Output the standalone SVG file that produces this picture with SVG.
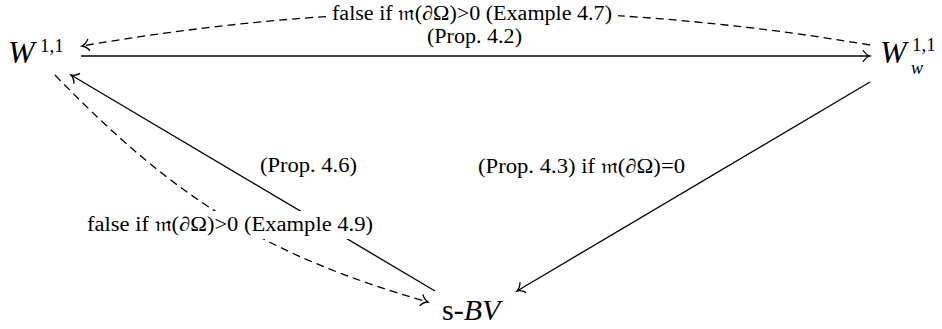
<svg xmlns="http://www.w3.org/2000/svg" width="942" height="329" viewBox="0 0 942 329">
<style>
.ln{fill:none;stroke:#000;stroke-width:1.3}
.ds{stroke-dasharray:8 5}
.lb{font-family:"Liberation Serif","DejaVu Serif",serif;font-size:20px;fill:#000}
.nd{font-family:"Liberation Serif","DejaVu Serif",serif;fill:#000}
.it{font-style:italic}
</style>
<defs>
<marker id="to" markerUnits="userSpaceOnUse" markerWidth="16" markerHeight="16" viewBox="-10 -8 12 16" refX="0" refY="0" orient="auto">
<path d="M -7 -6 C -5 -2.5 -2 -0.6 0 0 C -2 0.6 -5 2.5 -7 6" fill="none" stroke="#000" stroke-width="1.3" stroke-dasharray="none"/>
</marker>
</defs>
<rect width="942" height="329" fill="#fff"/>
<g id="connectors">
<path class="ln" d="M 81 56 L 870 56" marker-end="url(#to)"/>
<path class="ln ds" d="M 870 45 C 603 0 349 0 82 46" marker-end="url(#to)"/>
<path class="ln" d="M 870 82 L 517 291" marker-end="url(#to)"/>
<path class="ln" d="M 435 291 L 71 75" marker-end="url(#to)"/>
<path class="ln ds" d="M 55 75 C 174 198 264 255 428 302" marker-end="url(#to)"/>
<rect x="326" y="2" width="292" height="26" fill="#fff"/>
<rect x="82" y="211" width="296" height="28" fill="#fff"/>
<text class="lb" x="472" y="20" text-anchor="middle" textLength="280" lengthAdjust="spacingAndGlyphs">false if 𝔪(∂Ω)&gt;0 (Example 4.7)</text>
<text class="lb" x="474.5" y="43" text-anchor="middle" textLength="95" lengthAdjust="spacingAndGlyphs">(Prop. 4.2)</text>
<text class="lb" x="308.5" y="172" text-anchor="middle" textLength="97" lengthAdjust="spacingAndGlyphs">(Prop. 4.6)</text>
<text class="lb" x="581.5" y="173" text-anchor="middle" textLength="207" lengthAdjust="spacingAndGlyphs">(Prop. 4.3) if 𝔪(∂Ω)=0</text>
<text class="lb" x="230" y="231" text-anchor="middle" textLength="286" lengthAdjust="spacingAndGlyphs">false if 𝔪(∂Ω)&gt;0 (Example 4.9)</text>
</g>
<g id="W11">
<text class="nd it" x="8" y="63" font-size="32">W</text>
<text class="nd" x="40" y="52" font-size="19">1,1</text>
</g>
<g id="Ww11">
<text class="nd it" x="880" y="63" font-size="32">W</text>
<text class="nd" x="912" y="51" font-size="19">1,1</text>
<text class="nd it" x="911" y="74" font-size="18">w</text>
</g>
<g id="sBV">
<text class="nd" x="442" y="320" font-size="30">s-<tspan class="it">BV</tspan></text>
</g>
</svg>
